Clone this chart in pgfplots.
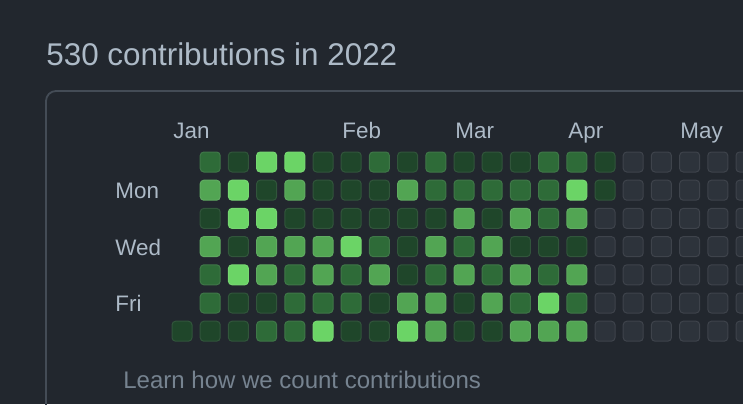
\documentclass[border=0pt]{standalone}
\usepackage{pgfplots}
\pgfplotsset{compat=1.18}
\usepackage{pgfplotstable}
\usepackage{fontspec}
\setmainfont{Liberation Sans}
\definecolor{bg}{HTML}{22272E}
\definecolor{lv0}{HTML}{2D333B}
\definecolor{lv1}{HTML}{1F462A}
\definecolor{lv2}{HTML}{2E6B38}
\definecolor{lv3}{HTML}{52A553}
\definecolor{lv4}{HTML}{6BD466}
\definecolor{fg}{HTML}{ADBAC7}
\definecolor{muted}{HTML}{768390}
\definecolor{boxline}{HTML}{444C56}

\newdimen\rsqr
\rsqr=1.8pt
\pgfdeclareplotmark{rsq}{%
  \pgfpathmoveto{\pgfpoint{-\pgfplotmarksize+\rsqr}{-\pgfplotmarksize}}%
  \pgfpathlineto{\pgfpoint{\pgfplotmarksize-\rsqr}{-\pgfplotmarksize}}%
  \pgfpatharc{270}{360}{\rsqr}%
  \pgfpathlineto{\pgfpoint{\pgfplotmarksize}{\pgfplotmarksize-\rsqr}}%
  \pgfpatharc{0}{90}{\rsqr}%
  \pgfpathlineto{\pgfpoint{-\pgfplotmarksize+\rsqr}{\pgfplotmarksize}}%
  \pgfpatharc{90}{180}{\rsqr}%
  \pgfpathlineto{\pgfpoint{-\pgfplotmarksize}{-\pgfplotmarksize+\rsqr}}%
  \pgfpatharc{180}{270}{\rsqr}%
  \pgfpathclose
  \pgfusepathqfillstroke}

% week column, weekday row (0 = Sun), contribution level
\pgfplotstableread{
c r lv
0 6 1
1 0 2
1 1 3
1 2 1
1 3 3
1 4 2
1 5 2
1 6 1
2 0 1
2 1 4
2 2 4
2 3 1
2 4 4
2 5 1
2 6 1
3 0 4
3 1 1
3 2 4
3 3 3
3 4 3
3 5 1
3 6 2
4 0 4
4 1 3
4 2 1
4 3 3
4 4 2
4 5 2
4 6 2
5 0 1
5 1 1
5 2 1
5 3 3
5 4 3
5 5 2
5 6 4
6 0 1
6 1 1
6 2 1
6 3 4
6 4 2
6 5 2
6 6 1
7 0 2
7 1 1
7 2 1
7 3 2
7 4 3
7 5 1
7 6 1
8 0 1
8 1 3
8 2 1
8 3 1
8 4 1
8 5 3
8 6 4
9 0 2
9 1 2
9 2 1
9 3 3
9 4 2
9 5 3
9 6 3
10 0 1
10 1 2
10 2 3
10 3 2
10 4 3
10 5 1
10 6 1
11 0 1
11 1 2
11 2 1
11 3 3
11 4 2
11 5 3
11 6 1
12 0 1
12 1 2
12 2 3
12 3 1
12 4 3
12 5 2
12 6 3
13 0 2
13 1 2
13 2 2
13 3 1
13 4 2
13 5 4
13 6 3
14 0 2
14 1 4
14 2 3
14 3 1
14 4 3
14 5 2
14 6 3
15 0 1
15 1 1
15 2 0
15 3 0
15 4 0
15 5 0
15 6 0
16 0 0
16 1 0
16 2 0
16 3 0
16 4 0
16 5 0
16 6 0
17 0 0
17 1 0
17 2 0
17 3 0
17 4 0
17 5 0
17 6 0
18 0 0
18 1 0
18 2 0
18 3 0
18 4 0
18 5 0
18 6 0
19 0 0
19 1 0
19 2 0
19 3 0
19 4 0
19 5 0
19 6 0
20 0 0
20 1 0
20 2 0
20 3 0
20 4 0
20 5 0
20 6 0
}\contrib

\begin{document}
\begin{tikzpicture}
\path[use as bounding box] (0,0) rectangle (371.5pt,202pt);
\clip (0,0) rectangle (371.5pt,202pt);
\fill[bg] (0,0) rectangle (371.5pt,202pt);
\begin{scope}[x=0.5pt,y=-0.5pt,shift={(0pt,202pt)}]
  \draw[boxline, line width=0.9pt, rounded corners=5pt] (46,440) -- (46,91) -- (780,91);
  \node[anchor=base west, inner sep=0pt, text=fg, font=\fontsize{15.7pt}{18pt}\selectfont] at (46,65) {530 contributions in 2022};
  \node[anchor=base west, inner sep=0pt, text=muted, font=\fontsize{12pt}{14pt}\selectfont] at (123,388) {Learn how we count contributions};
\end{scope}
\begin{axis}[
  at={(0pt,0pt)}, anchor=south west,
  scale only axis, width=371.5pt, height=202pt,
  hide axis, clip=false,
  xmin=-6.4539, xmax=19.8936,
  ymin=-5.7447, ymax=8.5816,
  y dir=reverse,
]
\addplot[
  scatter, only marks, mark size=5pt, line width=0.5pt,
  point meta=explicit symbolic,
  scatter/classes={
    0={mark=rsq, fill=lv0, draw=lv0!92!white},
    1={mark=rsq, fill=lv1, draw=lv1!92!white},
    2={mark=rsq, fill=lv2, draw=lv2!92!white},
    3={mark=rsq, fill=lv3, draw=lv3!92!white},
    4={mark=rsq, fill=lv4, draw=lv4!92!white}},
] table[x=c, y=r, meta=lv] {\contrib};
\begin{scope}[every node/.style={anchor=base west, inner sep=0pt, text=fg, font=\fontsize{11.2pt}{13pt}\selectfont}]
  \node at (axis cs:-0.319,-0.851) {Jan};
  \node at (axis cs:5.674,-0.851) {Feb};
  \node at (axis cs:9.681,-0.851) {Mar};
  \node at (axis cs:13.688,-0.851) {Apr};
  \node at (axis cs:17.660,-0.851) {May};
  \node at (axis cs:-2.376,1.31) {Mon};
  \node at (axis cs:-2.376,3.31) {Wed};
  \node at (axis cs:-2.376,5.31) {Fri};
\end{scope}
\end{axis}
\end{tikzpicture}
\end{document}
